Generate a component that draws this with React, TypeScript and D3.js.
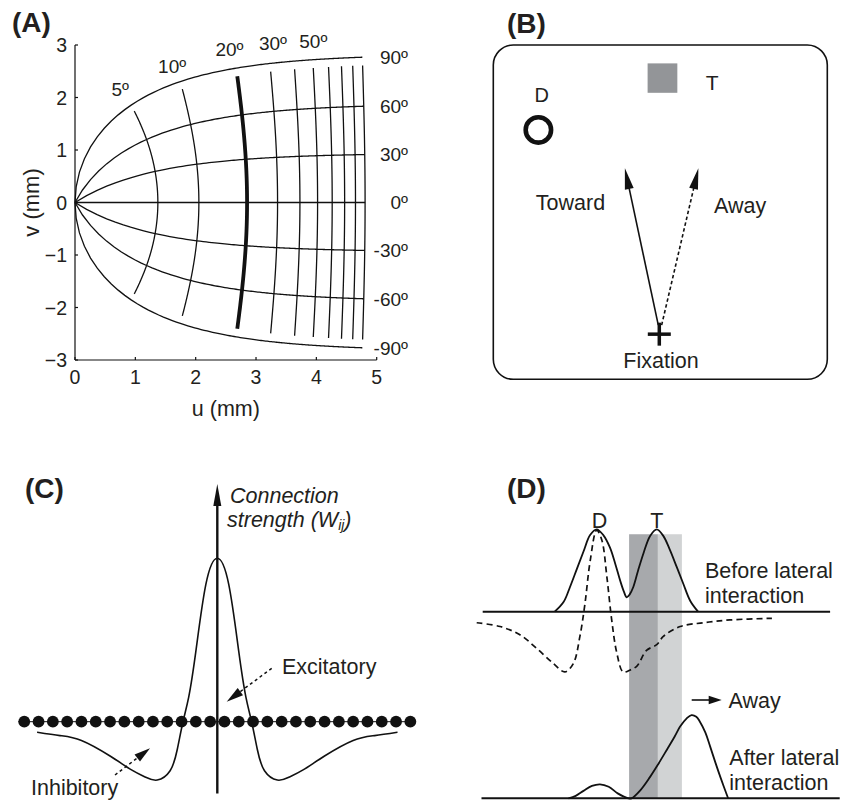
import React from 'react';
import * as d3 from 'd3';

const FONT = "'Liberation Sans', Arial, Helvetica, sans-serif";

// ---------- Panel A: visual field -> collicular map (u, v in mm) ----------
const eccentricities = [5, 10, 20, 30, 40, 50, 60, 70, 80, 90];
const meridians = [-90, -60, -30, 0, 30, 60, 90];
const boldEccentricity = 20;
const uTicks = [0, 1, 2, 3, 4, 5];
const vTicks = [-3, -2, -1, 0, 1, 2, 3];
const eccLabels = [
  { t: '5º', u: 0.75, v: 2.03 },
  { t: '10º', u: 1.61, v: 2.47 },
  { t: '20º', u: 2.56, v: 2.79 },
  { t: '30º', u: 3.28, v: 2.905 },
  { t: '50º', u: 3.95, v: 2.94 },
];
const mapBu = 1.4, mapBv = 1.8, mapA = 3;
const maxEcc = 90, eccPhiLimit = 85;

// ---------- Panel B: stimulus layout (box units 0..100) ----------
const fixation = { x: 49.7, y: 86.5 };
const distractor = { x: 13.5, y: 25.4, r: 3.8, lx: 14.5, ly: 17.0 };
const target = { x0: 46.2, x1: 55.1, y0: 5.5, y1: 14.3, lx: 65.5, ly: 13.5 };
const saccades = [
  { name: 'Toward', x0: 49.4, y0: 83.8, x1: 39.4, y1: 36.9, lx: 23.1, ly: 49.4, dashed: false },
  { name: 'Away', x0: 50.4, y0: 83.8, x1: 61.4, y1: 36.9, lx: 73.9, ly: 50.4, dashed: true },
];

// ---------- Panel C: lateral connection kernel ----------
const neuronCount = 28;
const kernelX = [-12.6, -11, -9.5, -7.5, -6, -5, -4.2, -3.3, -2.8, -2.4, -2.0, -1.5, -0.8, 0, 0.8, 1.5, 2.0, 2.4, 2.8, 3.3, 4.2, 5, 6, 7.5, 9.5, 11, 12.6];
const kernelW = [-0.064, -0.085, -0.115, -0.21, -0.295, -0.34, -0.357, -0.30, -0.17, 0, 0.15, 0.43, 0.84, 1, 0.84, 0.43, 0.15, 0, -0.17, -0.30, -0.357, -0.34, -0.295, -0.21, -0.115, -0.085, -0.064];

// ---------- Panel D: activity profiles ----------
const beforeX = [-7, -5.5, -4.45, -3.3, -2.2, -1.1, 0, 1.1, 2.2, 3.1, 3.9, 4.5, 5.0, 5.5, 6.1, 6.9, 7.8, 8.9, 10, 11.1, 12.2, 13.3, 14.4, 15.6, 16.9];
const beforeY = [0, 0.12, 0.30, 0.52, 0.73, 0.93, 1.0, 0.93, 0.78, 0.58, 0.38, 0.25, 0.175, 0.21, 0.30, 0.50, 0.71, 0.92, 1.0, 0.92, 0.75, 0.55, 0.345, 0.13, 0.0];
const lateralX = [-20, -16.1, -12.8, -10, -7.2, -5.3, -3.9, -2.8, -1.95, -1.1, 0, 0.85, 1.7, 2.5, 3.35, 4.4, 5.5, 6.7, 8.3, 10, 11.1, 13.9, 17.8, 22.2, 29.2];
const lateralY = [-0.134, -0.18, -0.28, -0.445, -0.63, -0.73, -0.63, -0.30, 0.10, 0.61, 0.99, 0.87, 0.42, -0.10, -0.50, -0.73, -0.71, -0.66, -0.47, -0.40, -0.30, -0.18, -0.134, -0.10, -0.08];
const afterX = [-4.7, -3.5, -2.2, -0.8, 0.55, 2, 3.5, 5.3, 5.8, 7.3, 8.9, 10.3, 11.7, 13, 13.9, 15, 15.8, 16.6, 17.2, 18.1, 18.9, 19.8, 20.6, 21.9];
const afterY = [0, 0.03, 0.09, 0.15, 0.17, 0.14, 0.06, 0, 0, 0.10, 0.26, 0.42, 0.59, 0.75, 0.87, 0.97, 1.01, 0.99, 0.93, 0.80, 0.63, 0.43, 0.26, 0];
const darkBand = [5.4, 10.2];
const lightBand = [10.2, 14.2];

function arrowHead(x1: number, y1: number, x2: number, y2: number, len: number, hw: number) {
  const dx = x2 - x1, dy = y2 - y1;
  const L = Math.hypot(dx, dy);
  const ux = dx / L, uy = dy / L;
  const bx = x2 - ux * len, by = y2 - uy * len;
  const px = -uy, py = ux;
  return {
    pts: `${x2},${y2} ${bx + px * hw},${by + py * hw} ${bx - px * hw},${by - py * hw}`,
    bx: x2 - ux * (len - 2),
    by: y2 - uy * (len - 2),
  };
}

function Arrow({ x1, y1, x2, y2, len, hw, sw = 1.5, dash }: any) {
  const a = arrowHead(x1, y1, x2, y2, len, hw);
  return (
    <g>
      <line x1={x1} y1={y1} x2={a.bx} y2={a.by} stroke="#111" strokeWidth={sw} strokeDasharray={dash} />
      <polygon points={a.pts} fill="#111" />
    </g>
  );
}

export default function App() {
  // Panel A
  const xA = d3.scaleLinear().domain([0, 5]).range([75, 376.7]);
  const yA = d3.scaleLinear().domain([-3, 3]).range([360, 45]);
  const proj = (R: number, phiDeg: number) => {
    const p = (phiDeg * Math.PI) / 180;
    const u = mapBu * Math.log(Math.sqrt(R * R + 2 * mapA * R * Math.cos(p) + mapA * mapA) / mapA);
    const v = mapBv * Math.atan2(R * Math.sin(p), R * Math.cos(p) + mapA);
    return [xA(u), yA(v)] as [number, number];
  };
  const lineA = d3.line();
  const meridianPaths = meridians.map((phi) => ({
    phi,
    d: lineA(d3.range(0, maxEcc + 0.001, 0.5).map((R) => proj(R, phi))) as string,
    end: proj(maxEcc, phi),
  }));
  const eccPaths = eccentricities.map((R) => ({
    R,
    d: lineA(d3.range(-eccPhiLimit, eccPhiLimit + 0.001, 1).map((phi) => proj(R, phi))) as string,
  }));

  // Panel B
  const xB = d3.scaleLinear().domain([0, 100]).range([493.3, 827.3]);
  const yB = d3.scaleLinear().domain([0, 100]).range([45, 379.3]);
  const sB = (v: number) => xB(v) - xB(0);

  // Panel C
  const xC = d3.scaleLinear().domain([-13.5, 13.5]).range([24.25, 410.35]);
  const yC = d3.scaleLinear().domain([0, 1]).range([721.7, 558.3]);
  const kernelLine = d3.line<number>().x((_, i) => xC(kernelX[i])).y((d) => yC(d)).curve(d3.curveNatural);
  const neurons = d3.range(neuronCount).map((i) => i - (neuronCount - 1) / 2);

  // Panel D
  const xD = d3.scaleLinear().domain([-20, 40]).range([476.7, 836.7]);
  const yTop = d3.scaleLinear().domain([0, 1]).range([611.7, 529.3]);
  const yBot = d3.scaleLinear().domain([0, 1]).range([798.3, 715.9]);
  const mkLine = (xs: number[], ys: number[], ys2: any) =>
    d3.line<number>().x((_, i) => xD(xs[i])).y((d) => ys2(d)).curve(d3.curveCatmullRom.alpha(0.5))(ys) as string;

  const txt = { fontFamily: FONT, fill: '#231f20' };

  return (
    <svg width={845} height={801} style={{ position: 'absolute', left: 0, top: 0, background: '#fff' }}>
      {/* ================= Panel A ================= */}
      <text x={12} y={32} fontSize={28} fontWeight="bold" {...txt}>(A)</text>
      <g fill="none" stroke="#111">
        {meridianPaths.map((m) => (
          <path key={'m' + m.phi} d={m.d} strokeWidth={1.3} />
        ))}
        {eccPaths.map((e) => (
          <path key={'e' + e.R} d={e.d} strokeWidth={e.R === boldEccentricity ? 3.8 : 1.3} />
        ))}
      </g>
      {/* axes */}
      <line x1={xA(0)} y1={yA(3)} x2={xA(0)} y2={yA(-3)} stroke="#111" strokeWidth={1.2} />
      <line x1={xA(0)} y1={yA(-3)} x2={xA(5)} y2={yA(-3)} stroke="#111" strokeWidth={1.2} />
      {vTicks.map((t) => (
        <g key={'vt' + t}>
          <line x1={xA(0)} x2={xA(0) + 3} y1={yA(t)} y2={yA(t)} stroke="#111" strokeWidth={1.2} />
          <text x={67} y={yA(t)} dy="0.36em" textAnchor="end" fontSize={19.5} {...txt}>
            {t < 0 ? '\u2212' + Math.abs(t) : String(t)}
          </text>
        </g>
      ))}
      {uTicks.map((t) => (
        <g key={'ut' + t}>
          <line x1={xA(t)} x2={xA(t)} y1={yA(-3)} y2={yA(-3) - 3} stroke="#111" strokeWidth={1.2} />
          <text x={xA(t)} y={383.5} textAnchor="middle" fontSize={19.5} {...txt}>{t}</text>
        </g>
      ))}
      <text x={xA(2.5)} y={416} textAnchor="middle" fontSize={21.5} {...txt}>u (mm)</text>
      <text transform={`translate(39,${yA(0)}) rotate(-90)`} textAnchor="middle" fontSize={22} {...txt}>v (mm)</text>
      {eccLabels.map((l) => (
        <text key={l.t} x={xA(l.u)} y={yA(l.v)} textAnchor="middle" fontSize={19} {...txt}>{l.t}</text>
      ))}
      {meridianPaths.map((m) => (
        <text key={'ml' + m.phi} x={408} y={m.end[1]} dy="0.36em" textAnchor="end" fontSize={19} {...txt}>
          {m.phi + 'º'}
        </text>
      ))}

      {/* ================= Panel B ================= */}
      <text x={507} y={33} fontSize={28} fontWeight="bold" {...txt}>(B)</text>
      <rect x={xB(0)} y={yB(0)} width={xB(100) - xB(0)} height={yB(100) - yB(0)} rx={20} ry={20} fill="none" stroke="#111" strokeWidth={1.6} />
      <rect x={xB(target.x0)} y={yB(target.y0)} width={xB(target.x1) - xB(target.x0)} height={yB(target.y1) - yB(target.y0)} fill="#939598" />
      <text x={xB(target.lx)} y={yB(target.ly)} textAnchor="middle" fontSize={21} {...txt}>T</text>
      <circle cx={xB(distractor.x)} cy={yB(distractor.y)} r={sB(distractor.r)} fill="none" stroke="#111" strokeWidth={4.6} />
      <text x={xB(distractor.lx)} y={yB(distractor.ly)} textAnchor="middle" fontSize={20} {...txt}>D</text>
      {saccades.map((s) => (
        <g key={s.name}>
          <Arrow x1={xB(s.x0)} y1={yB(s.y0)} x2={xB(s.x1)} y2={yB(s.y1)} len={21} hw={4.5} sw={1.6} dash={s.dashed ? '3.5,2.5' : undefined} />
          <text x={xB(s.lx)} y={yB(s.ly)} textAnchor="middle" fontSize={21.5} {...txt}>{s.name}</text>
        </g>
      ))}
      <line x1={xB(fixation.x) - 11.5} x2={xB(fixation.x) + 11.5} y1={yB(fixation.y)} y2={yB(fixation.y)} stroke="#111" strokeWidth={3.5} />
      <line x1={xB(fixation.x)} x2={xB(fixation.x)} y1={yB(fixation.y) - 11.5} y2={yB(fixation.y) + 11.5} stroke="#111" strokeWidth={3.5} />
      <text x={xB(50.2)} y={yB(96.7)} textAnchor="middle" fontSize={21.5} {...txt}>Fixation</text>

      {/* ================= Panel C ================= */}
      <text x={25} y={498} fontSize={28} fontWeight="bold" {...txt}>(C)</text>
      <line x1={xC(-13.5) - 6} x2={xC(13.5) + 5} y1={yC(0)} y2={yC(0)} stroke="#111" strokeWidth={1} />
      {neurons.map((n) => (
        <circle key={'n' + n} cx={xC(n)} cy={yC(0)} r={5.9} fill="#111" />
      ))}
      <path d={kernelLine(kernelW) as string} fill="none" stroke="#111" strokeWidth={1.6} />
      <Arrow x1={xC(0)} y1={yC(-0.44)} x2={xC(0)} y2={yC(1.455)} len={22} hw={4} sw={2.4} />
      <text x={230} y={503} fontSize={21.5} fontStyle="italic" {...txt}>Connection</text>
      <text x={227} y={527} fontSize={21.5} fontStyle="italic" {...txt}>
        strength (W<tspan fontSize={14} dy={3}>ij</tspan><tspan dy={-3}>)</tspan>
      </text>
      <Arrow x1={271.7} y1={668.3} x2={226.7} y2={701.7} len={17} hw={4.5} sw={1.5} dash="3,3" />
      <text x={282} y={674} fontSize={21.5} {...txt}>Excitatory</text>
      <Arrow x1={115} y1={775} x2={150} y2={748.3} len={16} hw={4.5} sw={1.5} dash="3,3" />
      <text x={31} y={795} fontSize={21.5} {...txt}>Inhibitory</text>

      {/* ================= Panel D ================= */}
      <text x={507} y={498} fontSize={28} fontWeight="bold" {...txt}>(D)</text>
      <rect x={xD(darkBand[0])} y={yTop(0.94)} width={xD(darkBand[1]) - xD(darkBand[0])} height={yBot(0) - yTop(0.94)} fill="#a7a9ac" />
      <rect x={xD(lightBand[0])} y={yTop(0.94)} width={xD(lightBand[1]) - xD(lightBand[0])} height={yBot(0) - yTop(0.94)} fill="#d1d3d4" />
      <line x1={xD(-19)} x2={xD(38.9)} y1={yTop(0)} y2={yTop(0)} stroke="#111" strokeWidth={2} />
      <line x1={xD(-19.2)} x2={xD(40.5)} y1={yBot(0)} y2={yBot(0)} stroke="#111" strokeWidth={2} />
      <path d={mkLine(beforeX, beforeY, yTop)} fill="none" stroke="#111" strokeWidth={1.8} />
      <path d={mkLine(lateralX, lateralY, yTop)} fill="none" stroke="#111" strokeWidth={1.7} strokeDasharray="6,4" />
      <path d={mkLine(afterX, afterY, yBot)} fill="none" stroke="#111" strokeWidth={1.8} />
      <text x={xD(0.45)} y={528} textAnchor="middle" fontSize={21.5} {...txt}>D</text>
      <text x={xD(10)} y={528} textAnchor="middle" fontSize={21.5} {...txt}>T</text>
      <text x={705} y={578} fontSize={21.5} {...txt}>Before lateral</text>
      <text x={705} y={603} fontSize={21.5} {...txt}>interaction</text>
      <Arrow x1={691.7} y1={700} x2={721.7} y2={700} len={13} hw={4.2} sw={1.6} />
      <text x={728.5} y={708} fontSize={21.5} {...txt}>Away</text>
      <text x={729.3} y={765} fontSize={21.5} {...txt}>After lateral</text>
      <text x={729.3} y={790} fontSize={21.5} {...txt}>interaction</text>
    </svg>
  );
}
